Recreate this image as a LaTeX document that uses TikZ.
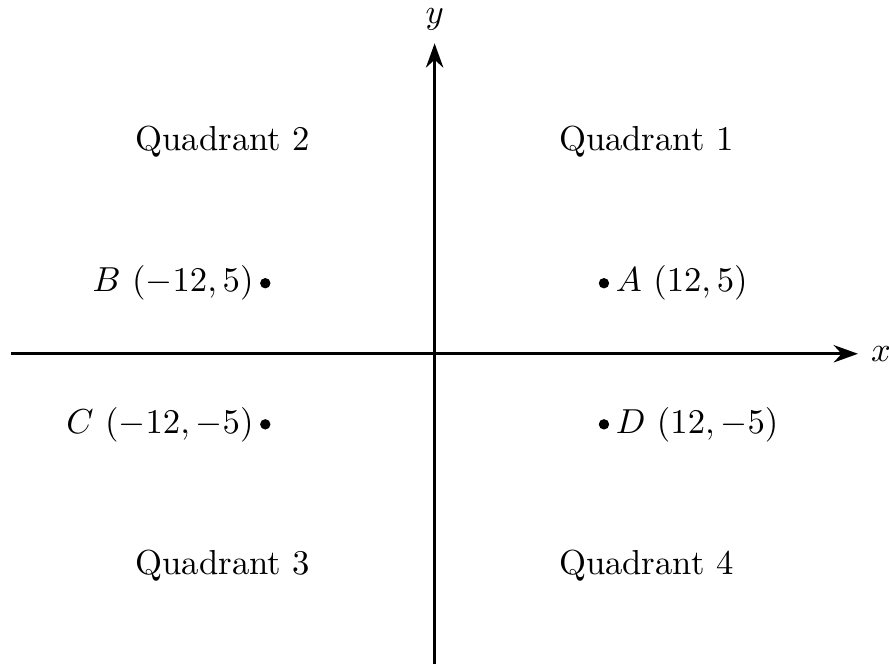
\documentclass[tikz,border=0pt]{standalone}
\usepackage{tikz}
\usetikzlibrary{arrows.meta}

\begin{document}
\begin{tikzpicture}[x=0.143cm, y=0.143cm,
    axis/.style={line width=0.9pt, -{Stealth[length=7pt,width=5pt]}},
    dot/.style={circle, fill=black, inner sep=0pt, minimum size=3pt},
    lbl/.style={inner sep=1.5pt}]
    \useasboundingbox (-30.8,-22) rectangle (32.2,25.07);
    % axes
    \coordinate (xmin) at (-30,0);
    \coordinate (xmax) at (30,0);
    \coordinate (ymin) at (0,-22);
    \coordinate (ymax) at (0,22);
    \draw[axis] (xmin) -- (xmax) node[right] {$x$};
    \draw[axis] (ymin) -- (ymax) node[above] {$y$};
    % quadrants
    \node (q1) at (15,15) {Quadrant 1};
    \node (q2) at (-15,15) {Quadrant 2};
    \node (q3) at (-15,-15) {Quadrant 3};
    \node (q4) at (15,-15) {Quadrant 4};
    % points
    \node[dot] (A) at (12,5) {};
    \node[dot] (B) at (-12,5) {};
    \node[dot] (C) at (-12,-5) {};
    \node[dot] (D) at (12,-5) {};
    \node[lbl, right] (la) at (A.east) {$A\ (12,5)$};
    \node[lbl, left] (lb) at (B.west) {$B\ (-12,5)$};
    \node[lbl, left] (lc) at (C.west) {$C\ (-12,-5)$};
    \node[lbl, right] (ld) at (D.east) {$D\ (12,-5)$};
\end{tikzpicture}
\end{document}
